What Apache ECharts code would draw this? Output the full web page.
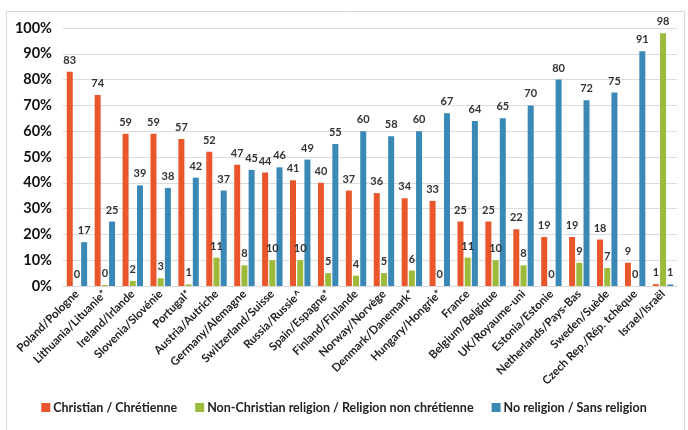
<!DOCTYPE html>
<html>
<head>
<meta charset="utf-8">
<script src="https://cdn.jsdelivr.net/npm/echarts@6/dist/echarts.min.js"></script>
<style>
html,body{margin:0;padding:0;background:#fff;}
#chart{width:688px;height:430px;}
</style>
</head>
<body>
<div id="chart"></div>
<script>
const categories = [
  "Poland/Pologne","Lithuania/Lituanie*","Ireland/Irlande","Slovenia/Slovénie","Portugal*",
  "Austria/Autriche","Germany/Alemagne","Switzerland/Suisse","Russia/Russie^","Spain/Espagne*",
  "Finland/Finlande","Norway/Norvège","Denmark/Danemark*","Hungary/Hongrie*","France",
  "Belgium/Belgique","UK/Royaume-uni","Estonia/Estonie","Netherlands/Pays-Bas","Sweden/Suède",
  "Czech Rep./Rép. tchèque","Israel/Israël"
];
const christian = [83,74,59,59,57,52,47,44,41,40,37,36,34,33,25,25,22,19,19,18,9,0.7];
const nonChristian = [0,0.4,2,3,0.6,11,8,10,10,5,4,5,6,0,11,10,8,0,9,7,0,98];
const noReligion = [17,25,39,38,42,37,45,46,49,55,60,58,60,67,64,65,70,80,72,75,91,0.6];
const yTicks = [0,10,20,30,40,50,60,70,80,90,100];

const seriesNames = ["Christian / Chrétienne","Non-Christian religion / Religion non chrétienne","No religion / Sans religion"];
const colors = ["#E9562B","#9DBB3B","#3A88B6"];
const font = "Lato, 'Open Sans', sans-serif";

const chart = echarts.init(document.getElementById('chart'));
const label = {
  show: true, position: 'top', distance: 6,
  fontSize: 11, fontWeight: 'bold', color: '#333', fontFamily: font,
  formatter: p => Math.round(p.value)
};
chart.setOption({
  animation: false,
  graphic: [{type:'rect', shape:{x:6.5,y:11.5,width:678,height:430}, style:{fill:'none',stroke:'#d9d9d9',lineWidth:1}, silent:true}],
  grid: {left: 63, right: 11, top: 28, bottom: 144},
  legend: {
    bottom: 11, left: 'center', itemWidth: 9, itemHeight: 9, itemGap: 18,
    icon: 'rect',
    textStyle: {fontSize: 12.5, fontWeight: 'bold', color: '#222', fontFamily: font, padding: [0,0,0,-2]},
    data: seriesNames
  },
  xAxis: {
    type: 'category', data: categories,
    axisLine: {lineStyle: {color: '#d9d9d9'}},
    axisTick: {show: false},
    axisLabel: {interval: 0, rotate: 45, fontSize: 11.5, fontWeight: 'bold', color: '#222', fontFamily: font, margin: 6}
  },
  yAxis: {
    type: 'value', min: yTicks[0], max: yTicks[yTicks.length-1], interval: yTicks[1]-yTicks[0],
    axisLabel: {formatter: '{value}%', fontSize: 14.5, fontWeight: 'bold', color: '#111', fontFamily: font, margin: 11},
    splitLine: {lineStyle: {color: '#dcdcdc'}},
    axisLine: {show: false}, axisTick: {show: false}
  },
  series: [
    {name: seriesNames[0], type: 'bar', data: christian, itemStyle: {color: colors[0]}, barWidth: 6, barGap: '20%', label},
    {name: seriesNames[1], type: 'bar', data: nonChristian, itemStyle: {color: colors[1]}, barWidth: 6, barGap: '20%', label},
    {name: seriesNames[2], type: 'bar', data: noReligion, itemStyle: {color: colors[2]}, barWidth: 6, barGap: '20%', label}
  ]
});
</script>
</body>
</html>
